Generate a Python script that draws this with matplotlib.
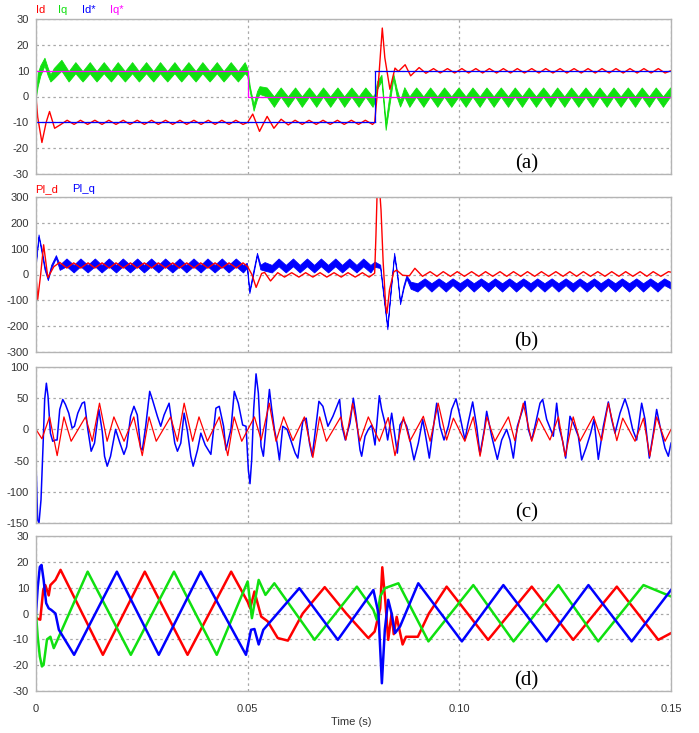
import numpy as np
import matplotlib
matplotlib.use("Agg")
import matplotlib.pyplot as plt

plt.rcParams['axes.unicode_minus'] = False
plt.rcParams['font.family'] = ['Liberation Sans', 'DejaVu Sans']

RED, GREEN, BLUE, MAG = '#ff0000', '#10e010', '#0000ff', '#ff00ff'

# all times in ms

# ---- (a) Id (t, value)
id_pts = [(0.0, 0), (0.4, -8), (1.4, -17.8), (2.4, -10), (3.2, -5.8), (4.4, -12.3), (5.7, -11),
          (7.35, -9.2), (9.0, -10.8), (10.5, -9.2), (12.2, -10.8), (13.9, -9.2), (15.6, -10.8), (17.2, -9.2),
          (18.9, -10.8), (20.6, -9.2), (22.2, -10.8), (23.9, -9.2), (25.6, -10.8), (27.3, -9.2), (28.9, -10.8),
          (30.6, -9.2), (32.3, -10.8), (34.0, -9.2), (35.6, -10.8), (37.3, -9.2), (39.0, -10.8), (40.7, -9.2),
          (42.3, -10.8), (43.9, -9.2), (45.6, -10.8), (47.2, -9.2), (48.9, -10.8),
          (50.0, -10), (51.2, -6.8), (52.8, -13.5), (54.6, -7.7), (56.2, -12.3), (57.9, -8.8), (59.6, -11),
          (61.2, -9.2), (62.9, -10.8), (64.5, -9.2), (66.2, -10.8), (67.8, -9.2), (69.5, -10.8), (71.2, -9.2),
          (72.8, -10.8), (74.5, -9.2), (76.2, -10.8), (77.8, -9.2), (79.5, -10.8),
          (80.0, -10), (81.0, 8), (81.8, 26.5), (82.4, 15), (83.6, 2.8), (84.8, 11), (85.6, 9.7), (87.2, 12.3),
          (88.5, 8), (90.5, 11.2), (92.1, 9),
          (93.9, 10.8), (95.5, 9.1), (97.2, 10.8), (98.9, 9.1), (100.6, 10.8), (102.2, 9.1), (103.9, 10.8),
          (105.5, 9.1), (107.1, 10.8), (108.8, 9.1), (110.4, 10.8), (112.1, 9.1), (113.7, 10.8), (115.4, 9.1),
          (117.1, 10.8), (118.8, 9.1), (120.4, 10.8), (122.1, 9.1), (123.8, 10.8), (125.4, 9.1), (127.1, 10.8),
          (128.8, 9.1), (130.4, 10.8), (132.1, 9.1), (133.7, 10.8), (135.4, 9.1), (137.0, 10.8), (138.7, 9.1),
          (140.3, 10.8), (142.0, 9.1), (143.6, 10.8), (145.3, 9.1), (147.0, 10.8), (148.6, 9.1), (150.0, 10)]

# ---- (a) Iq noisy band (t, low, high)
iq_band = [(0.0, 0, 0), (0.4, 4, 9), (1.0, 8, 12), (2.0, 12, 15), (2.8, 8, 11), (3.4, 5.8, 8.5), (4.2, 7, 11),
           (6.0, 10, 14.2), (7.7, 5.8, 9.8), (9.3, 9, 13.3), (11.0, 5.8, 9.8), (12.7, 9, 13.3), (14.3, 5.8, 9.8),
           (16.0, 9, 13.3), (17.7, 5.8, 9.8), (19.3, 9, 13.3), (21.0, 5.8, 9.8), (22.7, 9, 13.3), (24.3, 5.8, 9.8),
           (26.0, 9, 13.3), (27.7, 5.8, 9.8), (29.3, 9, 13.3), (31.0, 5.8, 9.8), (32.7, 9, 13.3), (34.3, 5.8, 9.8),
           (36.0, 9, 13.3), (37.7, 5.8, 9.8), (39.3, 9, 13.3), (41.0, 5.8, 9.8), (42.7, 9, 13.3), (44.3, 5.8, 9.8),
           (46.0, 9, 13.3), (47.7, 5.8, 9.8), (49.3, 9, 13.3), (49.9, 8, 11),
           (50.5, 2, 4), (51.4, -5.5, -3), (52.2, -1, 2), (52.8, 1, 4),
           (54.5, 0, 3.5), (56.2, -4, 0), (57.8, 0, 3.5), (59.5, -4, 0), (61.2, 0, 3.5), (62.8, -4, 0),
           (64.5, 0, 3.5), (66.2, -4, 0), (67.8, 0, 3.5), (69.5, -4, 0), (71.2, 0, 3.5), (72.8, -4, 0),
           (74.5, 0, 3.5), (76.2, -4, 0), (77.8, 0, 3.5), (79.5, -4, 0), (80.0, -2, 1),
           (80.6, 3, 6), (81.6, 6, 8.4), (82.6, -12.9, -10), (83.6, -2, 2), (84.4, 7, 8.8), (85.2, 0, 3),
           (86.0, -3.9, -1.5), (87.0, 0, 3.6), (88.2, -4, 0),
           (89.8, 0, 3.5), (91.5, -4, 0), (93.1, 0, 3.5), (94.8, -4, 0), (96.4, 0, 3.5), (98.1, -4, 0),
           (99.8, 0, 3.5), (101.5, -4, 0), (103.1, 0, 3.5), (104.8, -4, 0), (106.4, 0, 3.5), (108.1, -4, 0),
           (109.8, 0, 3.5), (111.5, -4, 0), (113.1, 0, 3.5), (114.8, -4, 0), (116.4, 0, 3.5), (118.1, -4, 0),
           (119.8, 0, 3.5), (121.5, -4, 0), (123.1, 0, 3.5), (124.8, -4, 0), (126.4, 0, 3.5), (128.1, -4, 0),
           (129.8, 0, 3.5), (131.5, -4, 0), (133.1, 0, 3.5), (134.8, -4, 0), (136.4, 0, 3.5), (138.1, -4, 0),
           (139.8, 0, 3.5), (141.5, -4, 0), (143.1, 0, 3.5), (144.8, -4, 0), (146.4, 0, 3.5), (148.1, -4, 0),
           (149.8, 0, 3.5), (150.0, -1, 2)]

# references Id*, Iq*
idref_pts = [(0, -10), (80, -10), (80, 10), (150, 10)]
iqref_pts = [(0, 10), (50, 10), (50, 0), (150, 0)]

# ---- (b) PI_d (t, value)
pid_pts = [(0, 0), (0.4, -96), (1.1, 0), (1.8, 115), (2.8, -12), (4.2, 30), (5.6, 47),
           (7.3, 25), (8.9, 45), (10.6, 25), (12.3, 45), (13.9, 25), (15.6, 45), (17.3, 25), (18.9, 45),
           (20.6, 25), (22.3, 45), (23.9, 25), (25.6, 45), (27.3, 25), (28.9, 45), (30.6, 25), (32.3, 45),
           (33.9, 25), (35.6, 45), (37.3, 25), (38.9, 45), (40.6, 25), (42.3, 45), (43.9, 25), (45.6, 45),
           (47.3, 25), (48.9, 45),
           (50.0, 30), (51.0, 0), (52.0, -50), (53.3, 4), (54.0, 8), (55.4, -25),
           (57.1, 7), (58.7, -10), (60.4, 7), (62.1, -10), (63.7, 7), (65.4, -10), (67.1, 7), (68.7, -10),
           (70.4, 7), (72.1, -10), (73.7, 7), (75.4, -10), (77.1, 7), (78.7, -10),
           (80.0, 5), (80.3, 150), (80.6, 330), (81.0, 370), (81.5, 250), (82.0, 50), (82.6, -120), (82.9, -150),
           (83.5, -60), (84.5, 10), (85.2, 17), (86.6, -3), (88.2, -5), (89.5, 24),
           (91.3, -7), (93.1, 11), (94.7, -7), (96.2, 11), (97.9, -7), (99.5, 11), (101.2, -7), (102.9, 11),
           (104.6, -7), (106.2, 11), (107.9, -7), (109.6, 11), (111.2, -7), (112.8, 11), (114.5, -7), (116.1, 11),
           (117.8, -7), (119.4, 11), (121.1, -7), (122.8, 11), (124.5, -7), (126.1, 11), (127.7, -7), (129.3, 11),
           (131.0, -7), (132.7, 11), (134.4, -7), (136.0, 11), (137.7, -7), (139.3, 11), (141.0, -7), (142.7, 11),
           (144.3, -7), (145.8, 11), (147.6, -7), (149.4, 11), (150.0, 9)]

# ---- (b) PI_q noisy band (t, low, high)
piq_band = [(0, 45, 55), (0.6, 145, 155), (1.2, 95, 108), (2.0, 20, 35), (2.8, -22, -12), (3.6, 25, 38),
            (4.7, 64, 75), (5.6, 18, 38),
            (7.2, 32, 62), (8.9, 8, 37), (10.5, 32, 62), (12.2, 8, 37), (13.9, 32, 62), (15.5, 8, 37),
            (17.2, 32, 62), (18.9, 8, 37), (20.5, 32, 62), (22.2, 8, 37), (23.9, 32, 62), (25.5, 8, 37),
            (27.2, 32, 62), (28.9, 8, 37), (30.5, 32, 62), (32.2, 8, 37), (33.9, 32, 62), (35.5, 8, 37),
            (37.2, 32, 62), (38.9, 8, 37), (40.5, 32, 62), (42.2, 8, 37), (43.9, 32, 62), (45.5, 8, 37),
            (47.2, 32, 62), (48.9, 8, 37),
            (49.8, 25, 45), (50.4, -72, -62), (51.2, -10, 5), (52.2, 74, 84), (53.0, 20, 38), (54.0, 15, 48),
            (55.7, 8, 37), (57.3, 32, 62), (59.0, 8, 37), (60.7, 32, 62), (62.3, 8, 37), (64.0, 32, 62),
            (65.7, 8, 37), (67.3, 32, 62), (69.0, 8, 37), (70.7, 32, 62), (72.3, 8, 37), (74.0, 32, 62),
            (75.7, 8, 37), (77.3, 32, 62), (79.0, 8, 37),
            (80.0, 30, 50), (81.3, 25, 38), (82.2, -105, -92), (83.0, -212, -200), (83.8, -65, -52),
            (84.6, 72, 84), (85.3, -5, 8), (86.0, -115, -105), (86.8, -55, -42), (87.5, -15, -3), (88.5, -55, -28),
            (90.1, -66, -34), (91.8, -41, -15), (93.4, -66, -34), (95.1, -41, -15), (96.8, -66, -34),
            (98.4, -41, -15), (100.1, -66, -34), (101.8, -41, -15), (103.4, -66, -34), (105.1, -41, -15),
            (106.8, -66, -34), (108.4, -41, -15), (110.1, -66, -34), (111.8, -41, -15), (113.4, -66, -34),
            (115.1, -41, -15), (116.8, -66, -34), (118.4, -41, -15), (120.1, -66, -34), (121.8, -41, -15),
            (123.4, -66, -34), (125.1, -41, -15), (126.8, -66, -34), (128.4, -41, -15), (130.1, -66, -34),
            (131.8, -41, -15), (133.4, -66, -34), (135.1, -41, -15), (136.8, -66, -34), (138.4, -41, -15),
            (140.1, -66, -34), (141.8, -41, -15), (143.4, -66, -34), (145.1, -41, -15), (146.8, -66, -34),
            (148.4, -41, -15), (150.0, -55, -30)]

# ---- (c) red trace (t, value)
c_red_pts = [(0, 0), (1.4, -15), (3.2, 20), (5.0, -42), (6.6, 20), (8.3, -19), (11.7, 20), (13.3, -19),
             (15.0, 42), (16.8, -19), (18.4, 20), (20.8, -19), (23.1, 20), (25.1, -42), (26.7, 20), (28.4, -19),
             (31.8, 20), (33.4, -19), (35.0, 42), (37.0, -19), (38.5, 20), (40.5, -19), (43.3, 20), (45.3, -42),
             (46.8, 20), (48.6, -19), (51.6, 20), (53.2, -17), (55.1, 42), (56.7, -19), (58.5, 20), (60.7, -18),
             (63.4, 20), (65.4, -45), (67.0, 20), (68.6, -19), (72.0, 20), (73.2, -17), (74.8, 42), (76.5, -19),
             (78.5, 20), (81.1, -19), (83.2, 19), (84.8, -42), (86.8, 20), (88.3, -19), (91.5, 21), (93.1, -19),
             (95.0, 42), (97.0, -17), (98.6, 18), (101.3, -19), (103.3, 20), (104.9, -43), (106.5, 20),
             (108.4, -19), (111.6, 20), (113.1, -18), (115.1, 42), (117.1, -19), (118.7, 18), (121.4, -17),
             (123.4, 20), (125.0, -43), (126.9, 20), (128.5, -19), (131.7, 21), (133.6, -18), (135.2, 42),
             (137.2, -18), (138.6, 18), (141.5, -19), (143.5, 18), (145.0, -43), (146.6, 20), (148.6, -19),
             (150.0, 0)]

# ---- (c) blue trace (t, value)
c_blue_pts = [(0.0, -54), (0.39, -145), (0.71, -150), (1.18, -113), (1.66, -27), (2.05, 48), (2.45, 74),
              (2.84, 53), (3.40, -6), (3.95, -19), (4.58, -17), (4.98, -17), (5.61, 32), (6.32, 48), (6.95, 40),
              (7.74, 26), (8.53, 2), (9.08, 5), (9.87, 26), (10.90, 42), (11.45, 44), (12.24, 0), (13.03, -35),
              (13.82, -22), (14.85, 32), (15.64, -3), (16.19, -43), (16.82, -59), (17.61, -43), (18.80, 0),
              (19.83, -22), (20.77, -40), (21.41, -28), (22.35, 21), (23.14, 37), (23.93, 23), (24.72, -30),
              (25.12, -33), (25.91, 5), (26.86, 61), (27.49, 48), (28.67, 21), (29.46, 5), (30.25, 23),
              (31.44, 42), (32.23, 5), (32.78, -22), (33.41, -35), (34.20, -22), (34.99, 26), (35.78, -3),
              (36.57, -43), (37.13, -59), (38.15, -33), (38.94, -6), (39.97, -25), (41.31, -40), (42.50, 34),
              (43.29, 37), (44.31, 5), (44.87, -33), (46.05, 0), (46.84, 61), (47.79, 42), (48.82, 7), (49.61, 5),
              (50.16, -65), (50.55, -87), (50.95, -49), (51.42, 32), (51.98, 89), (52.53, 58), (53.16, -27),
              (53.71, -43), (54.35, 5), (55.14, 64), (55.69, 32), (56.32, 0), (56.95, -22), (57.50, -49),
              (58.29, 5), (59.32, 0), (60.27, -19), (61.22, -38), (61.85, -46), (63.03, 13), (63.82, 18),
              (64.61, -22), (65.25, -43), (66.19, 10), (66.83, 45), (67.77, 37), (68.96, 5), (70.14, 21),
              (71.72, 48), (72.28, 5), (73.07, -17), (74.17, 10), (74.96, 50), (75.59, 21), (76.54, -33),
              (76.93, -43), (77.72, -11), (78.50, 0), (79.29, 7), (80.08, -25), (81.10, 54), (81.65, 32),
              (82.44, 10), (83.07, -17), (84.02, 26), (84.80, -11), (85.35, -38), (85.98, 7), (86.77, 16),
              (87.56, 5), (88.35, -17), (89.29, -49), (90.31, -22), (91.34, 16), (92.13, -14), (92.91, -46),
              (93.46, -17), (94.65, 42), (95.43, 5), (96.38, -17), (97.40, 5), (98.19, 32), (99.21, 49),
              (100.0, 26), (100.79, 0), (101.34, -17), (101.97, 7), (103.15, 44), (104.09, 5), (104.88, -40),
              (105.91, 0), (106.46, 29), (107.64, -11), (108.98, -48), (110.0, -17), (111.18, 0), (111.97, -17),
              (112.76, -46), (113.70, 5), (114.96, 32), (115.51, 45), (116.30, 0), (117.09, -17), (117.87, 5),
              (119.06, 42), (119.69, 48), (120.63, 16), (121.26, 5), (122.20, -11), (122.99, 42), (123.62, 2),
              (124.41, -19), (125.12, -46), (126.14, 21), (126.93, 10), (128.11, -11), (128.90, -49),
              (129.92, -30), (131.02, -6), (131.81, 16), (132.83, -48), (134.02, 5), (135.20, 44), (135.98, 16),
              (136.77, -6), (137.95, 26), (139.13, 49), (139.92, 32), (140.94, 0), (141.89, -17), (143.07, 42),
              (143.86, 16), (144.88, -46), (145.83, -6), (146.61, 32), (147.40, 5), (148.58, -30), (149.37, -43),
              (150.0, -22)]

# ---- (d) phase currents (t, value)
ia_pts = [(0.0, -1.8), (1.0, -2.4), (1.7, 9), (2.2, 11), (3.0, 7), (3.4, 11), (4.6, 13), (5.8, 16.9),
          (15.8, -16.0), (25.7, 16.2), (35.8, -16.0), (46.1, 16.2), (50.0, 4.5), (50.6, 2), (51.6, 8.5),
          (53.2, -1.2), (54.7, -3), (57.1, -9.5), (59.5, -10.5), (63.0, 0), (68.2, 10.2), (73.3, 0), (78.5, -9.5),
          (80.0, -7), (81.3, 2), (81.8, 17.9), (82.5, 5), (83.2, -10.2), (84.0, 0), (84.5, -8), (85.2, -1.3),
          (86.6, -12), (87.4, -9), (90.2, -9), (92.8, 0), (97.0, 10.4), (106.8, -10.2), (117.1, 10.4),
          (126.9, -10.2), (137.2, 10.4), (147.0, -10.2), (150.0, -7.6)]
ib_pts = [(0.0, 0), (0.4, -9), (0.9, -16.6), (1.4, -20.5), (1.8, -19.8), (2.6, -10), (3.4, -9), (4.2, -13.4),
          (5.4, -9), (12.2, 16.2), (22.4, -16.0), (32.6, 16.2), (42.7, -16.0), (50.0, 12.4), (51.0, -1.8),
          (52.6, 13), (54.2, 7.2), (56.3, 11.7), (65.8, -10.2), (75.8, 10.4), (79.7, 1.4), (80.5, -2.4),
          (81.3, 6.6), (82.4, 9.8), (85.6, 11.7), (92.7, -10.8), (103.3, 11), (112.8, -10.8), (123.4, 11),
          (132.8, -10.8), (143.5, 11), (150.0, 6.6)]
ic_pts = [(0.0, 0), (0.4, 10), (0.9, 18), (1.3, 18.8), (1.8, 13), (2.4, 4), (3.0, 2), (3.6, 1.4), (4.6, 0),
          (5.4, -6.3), (9.0, -16.0), (19.1, 16.2), (29.0, -16.0), (38.9, 16.2), (49.6, -16.0), (50.8, -6.3),
          (51.6, -6), (52.6, -12), (53.7, -6.3), (62.2, 9.8), (71.3, -10.2), (79.7, 9.1), (80.9, 0), (81.7, -27),
          (82.4, -6.3), (83.2, 5.3), (84.0, 0), (84.8, -7.6), (86.0, -5), (90.3, 11.7), (100.6, -10.8),
          (110.4, 11), (120.6, -10.8), (130.5, 11), (140.7, -10.8), (150.0, 9.1)]

ylims = [(-30, 30), (-300, 300), (-150, 100), (-30, 30)]
ysteps = [10, 100, 50, 10]
letters = ['(a)', '(b)', '(c)', '(d)']
boxes = [(19, 174), (197, 352), (367, 523), (536, 691)]  # top, bottom in px

W, H = 699, 733
fig = plt.figure(figsize=(W / 100, H / 100), dpi=100)
axes = [fig.add_axes([36 / W, 1 - b / H, 635 / W, (b - t) / H]) for t, b in boxes]


def cols(pts):
    a = np.array(pts, dtype=float)
    a[:, 0] /= 1000.0  # ms -> s
    return a.T


for i, ax in enumerate(axes):
    lo, hi = ylims[i]
    ax.set_xlim(0, 0.15)
    ax.set_ylim(lo, hi)
    ax.set_yticks(np.arange(lo, hi + 1, ysteps[i]))
    ax.set_xticks([0, 0.05, 0.10, 0.15])
    ax.set_axisbelow(True)
    ax.grid(True, color='#a8a8a8', linestyle=(0, (2, 2.5)), linewidth=0.9)
    ax.tick_params(length=0, pad=5, labelsize=8, labelcolor='#333333')
    for s in ax.spines.values():
        s.set_color('#b4b4b4')
        s.set_linewidth(1.0)
    if i < 3:
        ax.set_xticklabels([])
    else:
        ax.set_xticklabels(['0', '0.05', '0.10', '0.15'])
        ax.tick_params(axis='x', pad=9)
    ax.text(0.772, 0.065, letters[i], transform=ax.transAxes, ha='center', va='center',
            fontsize=15, family='Liberation Serif', color='black')

# (a)
ax = axes[0]
t, lo, hi = cols(iq_band)
ax.fill_between(t, lo, hi, color=GREEN, lw=0.6)
t, v = cols(id_pts)
ax.plot(t, v, color=RED, lw=1.0)
t, v = cols(idref_pts)
ax.plot(t, v, color=BLUE, lw=0.9)
t, v = cols(iqref_pts)
ax.plot(t, v, color=MAG, lw=0.9)

# (b)
ax = axes[1]
t, lo, hi = cols(piq_band)
ax.fill_between(t, lo, hi, color=BLUE, lw=0.6)
t, v = cols(pid_pts)
ax.plot(t, v, color=RED, lw=1.0)

# (c)
ax = axes[2]
t, v = cols(c_blue_pts)
ax.plot(t, v, color=BLUE, lw=1.1)
t, v = cols(c_red_pts)
ax.plot(t, v, color=RED, lw=0.9)

# (d)
ax = axes[3]
for pts, c in [(ia_pts, RED), (ib_pts, GREEN), (ic_pts, BLUE)]:
    t, v = cols(pts)
    ax.plot(t, v, color=c, lw=1.8)

fig.text(351 / W, 1 - 722 / H, 'Time (s)', ha='center', va='center', fontsize=8, color='#333333')

for lab, x, col in [('Id', 36, RED), ('Iq', 58, GREEN), ('Id*', 82, BLUE), ('Iq*', 110, MAG)]:
    fig.text(x / W, 1 - 10 / H, lab, ha='left', va='center', fontsize=8, color=col)
for lab, x, col in [('PI_d', 35, RED), ('PI_q', 72, BLUE)]:
    fig.text(x / W, 1 - 189 / H, lab, ha='left', va='center', fontsize=8, color=col)

fig.savefig('out.png', dpi=100)
